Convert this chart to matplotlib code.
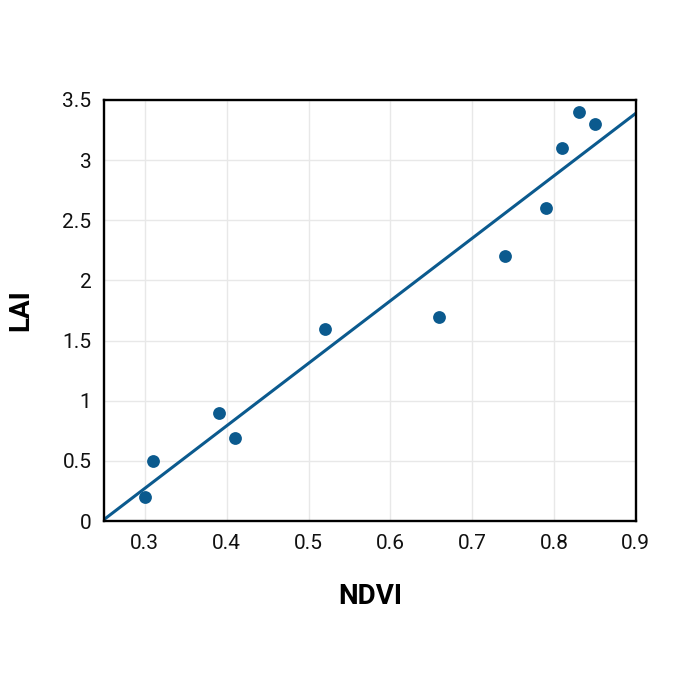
import numpy as np
import matplotlib
matplotlib.use("Agg")
import matplotlib.pyplot as plt
from matplotlib.ticker import FuncFormatter

# NDVI vs LAI samples
ndvi = [0.30, 0.31, 0.39, 0.41, 0.52, 0.66, 0.74, 0.79, 0.81, 0.83, 0.85]
lai = [0.20, 0.50, 0.90, 0.69, 1.60, 1.70, 2.20, 2.60, 3.10, 3.40, 3.30]
x_ticks = [0.3, 0.4, 0.5, 0.6, 0.7, 0.8, 0.9]
y_ticks = [0, 0.5, 1, 1.5, 2, 2.5, 3, 3.5]

plt.rcParams['font.family'] = ['Roboto', 'DejaVu Sans']
blue = '#0b5a8e'

fig = plt.figure(figsize=(6.75, 6.75), dpi=100)
ax = fig.add_axes([0.154, 0.228, 0.788, 0.624])

ax.scatter(ndvi, lai, s=85, color=blue, zorder=3, linewidths=0)

# least squares fit across the full x range
slope, icept = np.polyfit(ndvi, lai, 1)
xs = np.array([0.25, 0.9])
ax.plot(xs, slope * xs + icept, color=blue, lw=2.2, zorder=2)

ax.set_xlim(0.25, 0.9)
ax.set_ylim(0, 3.5)
ax.set_xticks(x_ticks)
ax.set_yticks(y_ticks)
fmt = FuncFormatter(lambda v, p: ('%g' % round(v, 2)))
ax.xaxis.set_major_formatter(fmt)
ax.yaxis.set_major_formatter(fmt)
ax.tick_params(length=0, labelsize=15, pad=9, colors='#111111')
ax.grid(True, color='#e8e8e8', lw=1)
ax.set_axisbelow(True)
for s in ax.spines.values():
    s.set_linewidth(1.7)
    s.set_color('black')

ax.set_xlabel('NDVI', fontsize=20, fontweight='bold', labelpad=22)
ax.set_ylabel('LAI', fontsize=20, fontweight='bold', labelpad=20)

fig.savefig('out.png', dpi=100, facecolor='white')
